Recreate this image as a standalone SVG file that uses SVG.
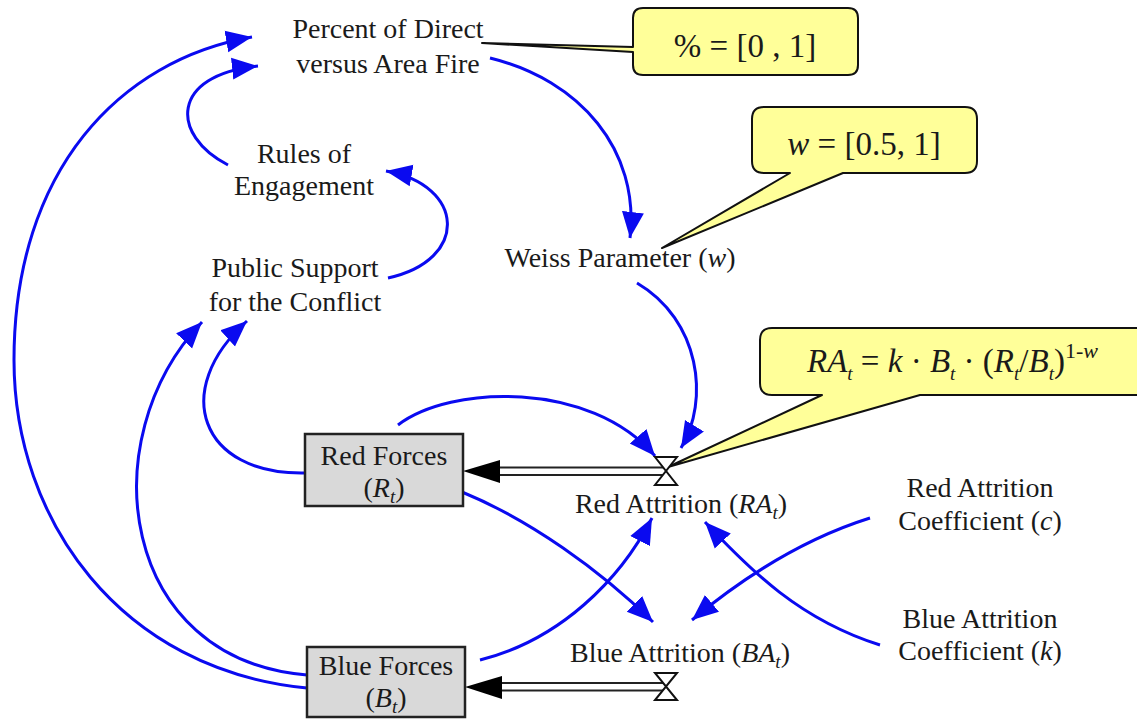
<svg xmlns="http://www.w3.org/2000/svg" width="1137" height="719" viewBox="0 0 1137 719" font-family="'Liberation Serif', 'Times New Roman', Times, serif">
  <style>
    text { font-family: 'Liberation Serif', 'Times New Roman', Times, serif; fill: #1a1a1a; }
    .lbl { font-size: 28px; text-anchor: middle; }
    .it { font-style: italic; }
    .sub { font-size: 19px; font-style: italic; }
    .link { fill: none; stroke: #0a0af0; stroke-width: 3; marker-end: url(#blueArrow); }
    .stock { fill: #d9d9d9; stroke: #222; stroke-width: 2.5; }
    .pipe { stroke: #222; stroke-width: 1.8; fill: none; }
    .valve { fill: #fff; stroke: #111; stroke-width: 2; }
    .callout { fill: #ffff99; stroke: #111; stroke-width: 2; stroke-linejoin: round; }
    .ctext { font-size: 33px; }
  </style>
  <defs>
    <marker id="blueArrow" markerUnits="userSpaceOnUse" markerWidth="28" markerHeight="24" viewBox="0 0 28 24" refX="26" refY="12" orient="auto">
      <path d="M0,1 L26,12 L0,23 Z" fill="#0a0af0"/>
    </marker>
  </defs>

  <rect width="1137" height="719" fill="#fff"/>

  <!-- callouts -->
  <g id="callout-percent">
    <path class="callout" d="M643,8 H848 Q858,8 858,18 V65 Q858,75 848,75 H643 Q633,75 633,65 V52 L482,43 L633,47 V18 Q633,8 643,8 Z"/>
    <text class="ctext" x="745" y="57" text-anchor="middle">% = [0 , 1]</text>
  </g>
  <g id="callout-weiss">
    <path class="callout" d="M764,107 H965 Q977,107 977,119 V161 Q977,173 965,173 H843 L662,248 L790,173 H764 Q752,173 752,161 V119 Q752,107 764,107 Z"/>
    <text class="ctext" x="864" y="155" text-anchor="middle"><tspan class="it">w</tspan> = [0.5, 1]</text>
  </g>
  <g id="callout-formula">
    <path class="callout" d="M772,328 H1150 V395 H920 L668,467 L822,395 H772 Q760,395 760,383 V340 Q760,328 772,328 Z"/>
    <text class="ctext" x="807" y="372"><tspan class="it">RA</tspan><tspan class="sub" font-size="22" dy="8">t</tspan><tspan dy="-8"> = </tspan><tspan class="it">k</tspan> · <tspan class="it">B</tspan><tspan class="sub" font-size="22" dy="8">t</tspan><tspan dy="-8"> · (</tspan><tspan class="it">R</tspan><tspan class="sub" font-size="22" dy="8">t</tspan><tspan dy="-8">/</tspan><tspan class="it">B</tspan><tspan class="sub" font-size="22" dy="8">t</tspan><tspan dy="-8">)</tspan><tspan font-size="22" dy="-14">1-</tspan><tspan class="it" font-size="22">w</tspan></text>
  </g>

  <!-- causal links -->
  <g id="connectors">
    <path class="link" d="M307,688 C120,670 14,520 14,360 C14,170 120,60 252,37"/>
    <path class="link" d="M228,165 C170,135 170,75 258,66"/>
    <path class="link" d="M388,278 C470,260 465,185 386,171"/>
    <path class="link" d="M305,473 C200,475 170,390 247,321"/>
    <path class="link" d="M307,675 C120,660 90,440 202,322"/>
    <path class="link" d="M490,58 C580,80 640,150 630,238"/>
    <path class="link" d="M637,283 C700,320 710,400 681,448"/>
    <path class="link" d="M398,425 C450,385 590,380 655,456"/>
    <path class="link" d="M462,492 C530,520 600,570 653,622"/>
    <path class="link" d="M480,660 C560,640 620,580 652,518"/>
    <path class="link" d="M870,518 C800,540 740,580 692,620"/>
    <path class="link" d="M880,645 C800,620 750,570 705,522"/>

    <!-- material flows into the stocks -->
    <line class="pipe" x1="496" y1="467.5" x2="666" y2="467.5"/>
    <line class="pipe" x1="496" y1="475" x2="666" y2="475"/>
    <path d="M463,471 L500,460 L500,483 Z" fill="#000"/>
    <line class="pipe" x1="498" y1="683" x2="666" y2="683"/>
    <line class="pipe" x1="498" y1="690.5" x2="666" y2="690.5"/>
    <path d="M465,687 L502,676 L502,699 Z" fill="#000"/>
  </g>

  <!-- valves -->
  <g id="red-attrition">
    <path class="valve" d="M655,457 L677,457 L655,485 L677,485 Z"/>
    <text class="lbl" x="681" y="513">Red Attrition (<tspan class="it">RA</tspan><tspan class="sub" dy="6">t</tspan><tspan dy="-6">)</tspan></text>
  </g>
  <g id="blue-attrition">
    <path class="valve" d="M655,673 L677,673 L655,700 L677,700 Z"/>
    <text class="lbl" x="680" y="662">Blue Attrition (<tspan class="it">BA</tspan><tspan class="sub" dy="6">t</tspan><tspan dy="-6">)</tspan></text>
  </g>

  <!-- stocks -->
  <g id="red-forces">
    <rect class="stock" x="305" y="434" width="158" height="72"/>
    <text class="lbl" x="384" y="465">Red Forces</text>
    <text class="lbl" x="384" y="497">(<tspan class="it">R</tspan><tspan class="sub" dy="6">t</tspan><tspan dy="-6">)</tspan></text>
  </g>
  <g id="blue-forces">
    <rect class="stock" x="307" y="647" width="158" height="70"/>
    <text class="lbl" x="386" y="675">Blue Forces</text>
    <text class="lbl" x="386" y="707">(<tspan class="it">B</tspan><tspan class="sub" dy="6">t</tspan><tspan dy="-6">)</tspan></text>
  </g>

  <!-- auxiliaries -->
  <g id="percent-direct">
    <text class="lbl" x="388" y="38">Percent of Direct</text>
    <text class="lbl" x="388" y="73">versus Area Fire</text>
  </g>
  <g id="rules-of-engagement">
    <text class="lbl" x="304" y="163">Rules of</text>
    <text class="lbl" x="304" y="195">Engagement</text>
  </g>
  <g id="public-support">
    <text class="lbl" x="295" y="277">Public Support</text>
    <text class="lbl" x="295" y="311">for the Conflict</text>
  </g>
  <g id="weiss-parameter">
    <text class="lbl" x="620" y="267">Weiss Parameter (<tspan class="it">w</tspan>)</text>
  </g>
  <g id="red-coefficient">
    <text class="lbl" x="980" y="497">Red Attrition</text>
    <text class="lbl" x="980" y="530">Coefficient (<tspan class="it">c</tspan>)</text>
  </g>
  <g id="blue-coefficient">
    <text class="lbl" x="980" y="628">Blue Attrition</text>
    <text class="lbl" x="980" y="660">Coefficient (<tspan class="it">k</tspan>)</text>
  </g>
</svg>
